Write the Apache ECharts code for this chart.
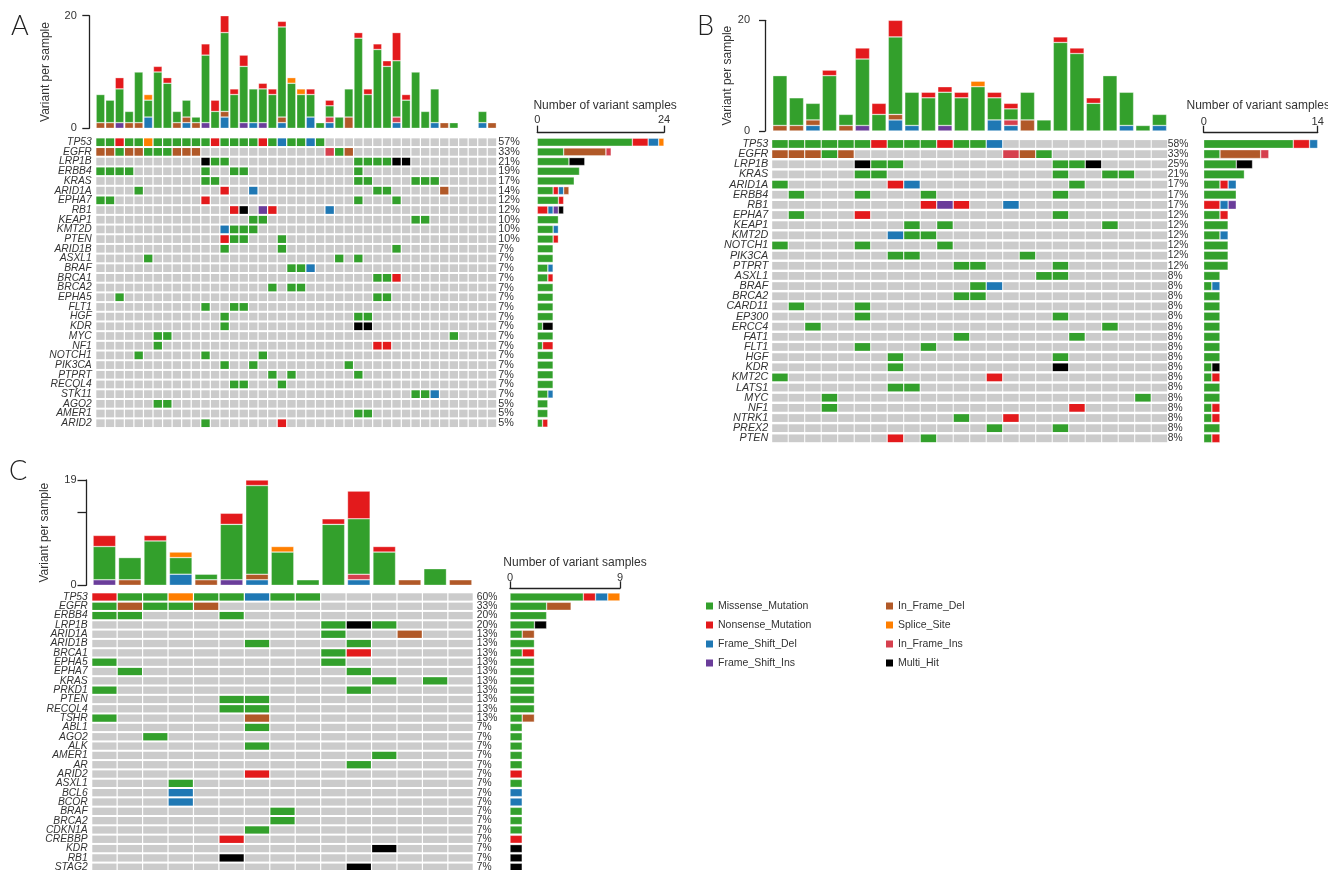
<!DOCTYPE html>
<html><head><meta charset="utf-8">
<script src="https://cdn.jsdelivr.net/npm/echarts@6/dist/echarts.min.js"></script>
<style>html,body{margin:0;padding:0;background:#fff}#c{width:1328px;height:870px}</style>
</head><body><div id="c"></div>
<script>
// ---------- mutation types ----------
const CODE_LIST = ['G','R','B','P','D','S','I','M'];
const TYPE_NAMES = {G:'Missense_Mutation',R:'Nonsense_Mutation',B:'Frame_Shift_Del',P:'Frame_Shift_Ins',D:'In_Frame_Del',S:'Splice_Site',I:'In_Frame_Ins',M:'Multi_Hit'};
const LEGEND_COL1 = ['Missense_Mutation','Nonsense_Mutation','Frame_Shift_Del','Frame_Shift_Ins'];
const LEGEND_COL2 = ['In_Frame_Del','Splice_Site','In_Frame_Ins','Multi_Hit'];

// ---------- Panel A ----------
const samplesA = 42;
const genesA = ['TP53','EGFR','LRP1B','ERBB4','KRAS','ARID1A','EPHA7','RB1','KEAP1','KMT2D','PTEN','ARID1B','ASXL1','BRAF','BRCA1','BRCA2','EPHA5','FLT1','HGF','KDR','MYC','NF1','NOTCH1','PIK3CA','PTPRT','RECQL4','STK11','AGO2','AMER1','ARID2'];
const pctA = ['57%','33%','21%','19%','17%','14%','12%','12%','10%','10%','10%','7%','7%','7%','7%','7%','7%','7%','7%','7%','7%','7%','7%','7%','7%','7%','7%','5%','5%','5%'];
// sample index + type code for each mutated cell
const mutA = [
 '0G 1G 2R 3G 4G 5S 6G 7G 8G 9G 10G 11G 12R 13G 14G 15G 16G 17R 18G 19B 20G 21G 22B 23G',
 '0D 1D 2G 3D 4D 5G 6G 7G 8D 9D 10D 24I 25G 26D',
 '11M 12G 13G 27G 28G 29G 30G 31M 32M',
 '0G 1G 2G 3G 11G 14G 15G 27G',
 '11G 12G 27G 28G 33G 34G 35G',
 '4G 13R 16B 29G 30G 36D',
 '0G 1G 11R 27G 31G',
 '14R 15M 17P 18R 24B',
 '16G 17G 33G 34G',
 '13B 14G 15G 16G',
 '13R 14G 15G 19G',
 '13G 19G 31G',
 '5G 25G 27G',
 '20G 21G 22B',
 '29G 30G 31R',
 '18G 20G 21G',
 '2G 29G 30G',
 '11G 14G 15G',
 '13G 27G 28G',
 '13G 27M 28M',
 '6G 7G 37G',
 '6G 29R 30R',
 '4G 11G 17G',
 '13G 16G 26G',
 '18G 20G 27G',
 '14G 15G 19G',
 '33G 34G 35B',
 '6G 7G',
 '27G 28G',
 '11G 19R'
];
const topA_Frame_Shift_Del = [0,0,0,0,0,2,0,0,0,1, 0,0,0,2,0,0,1,0,0,1, 0,0,2,0,1,0,0,0,0,0, 0,1,0,0,0,1,0,0,0,0, 1,0];
const topA_Frame_Shift_Ins = [0,0,1,0,0,0,0,0,0,0, 0,1,0,0,0,1,0,1,0,0, 0,0,0,0,0,0,0,0,0,0, 0,0,0,0,0,0,0,0,0,0, 0,0];
const topA_In_Frame_Del    = [1,1,0,1,1,0,0,0,1,1, 1,0,0,1,0,0,0,0,0,1, 0,0,0,0,0,0,2,0,0,0, 0,0,0,0,0,0,1,0,0,0, 0,1];
const topA_In_Frame_Ins    = [0,0,0,0,0,0,0,0,0,0, 0,0,0,0,0,0,0,0,0,0, 0,0,0,0,1,0,0,0,0,0, 0,1,0,0,0,0,0,0,0,0, 0,0];
const topA_Missense        = [5,4,6,2,9,3,10,8,2,3, 1,12,3,14,6,10,6,6,6,16, 8,6,4,1,2,2,5,16,6,14, 11,10,5,10,3,6,0,1,0,0, 2,0];
const topA_Nonsense        = [0,0,2,0,0,0,1,1,0,0, 0,2,2,3,1,2,0,1,1,1, 0,0,1,0,1,0,0,1,1,1, 1,5,1,0,0,0,0,0,0,0, 0,0];
const topA_Splice_Site     = [0,0,0,0,0,1,0,0,0,0, 0,0,0,0,0,0,0,0,0,0, 1,1,0,0,0,0,0,0,0,0, 0,0,0,0,0,0,0,0,0,0, 0,0];

// ---------- Panel B ----------
const samplesB = 24;
const genesB = ['TP53','EGFR','LRP1B','KRAS','ARID1A','ERBB4','RB1','EPHA7','KEAP1','KMT2D','NOTCH1','PIK3CA','PTPRT','ASXL1','BRAF','BRCA2','CARD11','EP300','ERCC4','FAT1','FLT1','HGF','KDR','KMT2C','LATS1','MYC','NF1','NTRK1','PREX2','PTEN'];
const pctB = ['58%','33%','25%','21%','17%','17%','17%','12%','12%','12%','12%','12%','12%','8%','8%','8%','8%','8%','8%','8%','8%','8%','8%','8%','8%','8%','8%','8%','8%','8%'];
const mutB = [
 '0G 1G 2G 3G 4G 5G 6R 7G 8G 9G 10R 11G 12G 13B',
 '0D 1D 2D 3G 4D 14I 15D 16G',
 '5M 6G 7G 17G 18G 19M',
 '5G 6G 17G 20G 21G',
 '0G 7R 8B 18G',
 '1G 5G 9G 17G',
 '9R 10P 11R 14B',
 '1G 5R 17G',
 '8G 10G 20G',
 '7B 8G 9G',
 '0G 5G 10G',
 '7G 8G 15G',
 '11G 12G 17G',
 '16G 17G',
 '12G 13B',
 '11G 12G',
 '1G 5G',
 '5G 17G',
 '2G 20G',
 '11G 18G',
 '5G 9G',
 '7G 17G',
 '7G 17M',
 '0G 13R',
 '7G 8G',
 '3G 22G',
 '3G 18R',
 '11G 14R',
 '13G 17G',
 '7R 9G'
];
const topB_Frame_Shift_Del = [0,0,1,0,0,0,0,2,1,0, 0,0,0,2,1,0,0,0,0,0, 0,1,0,1];
const topB_Frame_Shift_Ins = [0,0,0,0,0,1,0,0,0,0, 1,0,0,0,0,0,0,0,0,0, 0,0,0,0];
const topB_In_Frame_Del    = [1,1,1,0,1,0,0,1,0,0, 0,0,0,0,0,2,0,0,0,0, 0,0,0,0];
const topB_In_Frame_Ins    = [0,0,0,0,0,0,0,0,0,0, 0,0,0,0,1,0,0,0,0,0, 0,0,0,0];
const topB_Missense        = [9,5,3,10,2,12,3,14,6,6, 6,6,8,4,2,5,2,16,14,5, 10,6,1,2];
const topB_Nonsense        = [0,0,0,1,0,2,2,3,0,1, 1,1,0,1,1,0,0,1,1,1, 0,0,0,0];
const topB_Splice_Site     = [0,0,0,0,0,0,0,0,0,0, 0,0,1,0,0,0,0,0,0,0, 0,0,0,0];

// ---------- Panel C ----------
const samplesC = 15;
const genesC = ['TP53','EGFR','ERBB4','LRP1B','ARID1A','ARID1B','BRCA1','EPHA5','EPHA7','KRAS','PRKD1','PTEN','RECQL4','TSHR','ABL1','AGO2','ALK','AMER1','AR','ARID2','ASXL1','BCL6','BCOR','BRAF','BRCA2','CDKN1A','CREBBP','KDR','RB1','STAG2'];
const pctC = ['60%','33%','20%','20%','13%','13%','13%','13%','13%','13%','13%','13%','13%','13%','7%','7%','7%','7%','7%','7%','7%','7%','7%','7%','7%','7%','7%','7%','7%','7%'];
const mutC = [
 '0R 1G 2G 3S 4G 5G 6B 7G 8G',
 '0G 1D 2G 3G 4D',
 '0G 1G 5G',
 '9G 10M 11G',
 '9G 12D',
 '6G 10G',
 '9G 10R',
 '0G 9G',
 '1G 10G',
 '11G 13G',
 '0G 10G',
 '5G 6G',
 '5G 6G',
 '0G 6D',
 '6G','2G','6G','11G','10G','6R','3G','3B','3B','7G','7G','6G','5R','11M','5M','10M'
];
const topC_Frame_Shift_Del = [0,0,0,2,0,0,1,0,0,0,1,0,0,0,0];
const topC_Frame_Shift_Ins = [1,0,0,0,0,1,0,0,0,0,0,0,0,0,0];
const topC_In_Frame_Del    = [0,1,0,0,1,0,1,0,0,0,0,0,1,0,1];
const topC_In_Frame_Ins    = [0,0,0,0,0,0,0,0,0,0,1,0,0,0,0];
const topC_Missense        = [6,4,8,3,1,10,16,6,1,11,10,6,0,3,0];
const topC_Nonsense        = [2,0,1,0,0,2,1,0,0,1,5,1,0,0,0];
const topC_Splice_Site     = [0,0,0,1,0,0,0,1,0,0,0,0,0,0,0];

// ---------- styles ----------
const COLORS = {G:'#33a02c',R:'#e31a1c',B:'#1f78b4',P:'#6a3d9a',D:'#b15928',S:'#ff7f00',I:'#d6404e',M:'#000000'};
const GRAY = '#cbcbcb';
const STACK_TOP = ['B','P','D','I','G','R','S'];
const STACK_RIGHT = ['G','R','B','P','D','I','S','M'];
const AX = '#222', TXT = '#333';

const grids = [], xAxes = [], yAxes = [], series = [];
function addGrid(g){ grids.push(Object.assign({outerBoundsMode:'none', containLabel:false}, g)); return grids.length - 1; }

function panel(P){
  const n = P.n;
  const cats = Array.from({length:n}, (_, i) => 'S' + (i + 1));
  // --- top stacked bar chart ---
  const gT = addGrid(P.topGrid);
  const xT = xAxes.push({type:'category', gridIndex:gT, data:cats, show:false}) - 1;
  const yTick = {show:true, length:P.tickLen, lineStyle:{color:AX, width:1.3}};
  if (P.topTicks) yTick.customValues = P.topTicks;
  const yT = yAxes.push({type:'value', gridIndex:gT, min:0, max:P.topMax, interval:P.topMax, offset:P.topOffset,
    axisLine:{show:true, lineStyle:{color:AX, width:1.3}}, axisTick:yTick,
    axisLabel:{fontSize:11, color:TXT, margin:P.labelMargin}, splitLine:{show:false},
    name:'Variant per sample', nameLocation:'middle', nameRotate:90, nameGap:P.nameGap,
    nameTextStyle:{fontSize:12, color:TXT}}) - 1;
  STACK_TOP.forEach(code => {
    series.push({type:'bar', name:TYPE_NAMES[code], xAxisIndex:xT, yAxisIndex:yT, stack:'top' + P.id,
      data:P.top[code].map(v => v === 0 ? '-' : v), barWidth:P.barW,
      itemStyle:{color:COLORS[code], borderColor:'rgba(255,255,255,0.55)', borderWidth:0.6}});
  });
  // --- oncoplot cells ---
  const gO = addGrid(P.oncoGrid);
  const xO = xAxes.push({type:'category', gridIndex:gO, data:cats, show:false}) - 1;
  const yO = yAxes.push({type:'category', gridIndex:gO, data:P.genes, inverse:true,
    axisLine:{show:false}, axisTick:{show:false},
    axisLabel:{interval:0, fontSize:P.geneFont, fontStyle:'italic', color:TXT, margin:P.geneMargin}}) - 1;
  yAxes.push({type:'category', gridIndex:gO, data:P.pct, inverse:true, position:'right',
    axisLine:{show:false}, axisTick:{show:false},
    axisLabel:{interval:0, fontSize:P.pctFont, color:TXT, margin:P.pctMargin}});
  const cells = [];
  const parsed = P.muts.map(s => s.split(' ').filter(Boolean).map(t => [parseInt(t, 10), t.slice(-1)]));
  parsed.forEach((list, r) => {
    const row = new Array(n).fill(-1);
    list.forEach(([c, code]) => { row[c] = CODE_LIST.indexOf(code); });
    row.forEach((v, c) => cells.push([c, r, v]));
  });
  series.push({type:'custom', name:'cells' + P.id, xAxisIndex:xO, yAxisIndex:yO, data:cells, silent:true,
    renderItem:(params, api) => {
      const c = api.coord([api.value(0), api.value(1)]);
      const s = api.size([1, 1]);
      const w = s[0] - P.gx, h = s[1] - P.gy;
      const v = api.value(2);
      return {type:'rect', shape:{x:c[0] - w / 2, y:c[1] - h / 2, width:w, height:h},
        style:{fill: v < 0 ? GRAY : COLORS[CODE_LIST[v]]}};
    }});
  // --- right stacked bars: number of variant samples ---
  const gR = addGrid({left:P.rLeft, width:P.rWidth, top:P.oncoGrid.top, height:P.oncoGrid.height});
  const xR = xAxes.push({type:'value', gridIndex:gR, position:'top', min:0, max:P.rMax, interval:P.rMax, offset:P.rOffset,
    axisLine:{show:true, lineStyle:{color:AX, width:1.3}}, axisTick:{show:true, length:7, lineStyle:{color:AX, width:1.3}},
    axisLabel:{fontSize:11, color:TXT, margin:P.rLabelMargin}, splitLine:{show:false},
    name:'Number of variant samples', nameLocation:'middle', nameGap:P.rNameGap,
    nameTextStyle:{fontSize:12, color:TXT, padding:P.rNamePad}}) - 1;
  const yR = yAxes.push({type:'category', gridIndex:gR, data:P.genes, inverse:true, show:false}) - 1;
  STACK_RIGHT.forEach(code => {
    const data = parsed.map(list => list.filter(t => t[1] === code).length);
    series.push({type:'bar', name:TYPE_NAMES[code], xAxisIndex:xR, yAxisIndex:yR, stack:'right' + P.id,
      data:data.map(v => v === 0 ? '-' : v), barWidth:P.rBarW,
      itemStyle:{color:COLORS[code], borderColor:'rgba(255,255,255,0.55)', borderWidth:0.6}});
  });
}

panel({id:'A', n:samplesA, genes:genesA, pct:pctA, muts:mutA,
  top:{B:topA_Frame_Shift_Del, P:topA_Frame_Shift_Ins, D:topA_In_Frame_Del, I:topA_In_Frame_Ins, G:topA_Missense, R:topA_Nonsense, S:topA_Splice_Site},
  topMax:20, topGrid:{left:95.7, top:15.7, width:401.1, height:112.6}, topOffset:6.4, tickLen:7, labelMargin:12.5, nameGap:37.5, barW:'91%',
  oncoGrid:{left:95.7, top:137.35, width:401.1, height:290.7}, gx:1.2, gy:2, geneFont:10.3, geneMargin:4, pctFont:10.8, pctMargin:1.5,
  rLeft:537.3, rWidth:126.7, rOffset:4.7, rMax:24, rLabelMargin:7, rNameGap:21, rNamePad:[0,0,0,9], rBarW:8});

panel({id:'B', n:samplesB, genes:genesB, pct:pctB, muts:mutB,
  top:{B:topB_Frame_Shift_Del, P:topB_Frame_Shift_Ins, D:topB_In_Frame_Del, I:topB_In_Frame_Ins, G:topB_Missense, R:topB_Nonsense, S:topB_Splice_Site},
  topMax:20, topGrid:{left:771.7, top:20.3, width:396, height:110.7}, topOffset:6.7, tickLen:6, labelMargin:15, nameGap:31.7, barW:'87%',
  oncoGrid:{left:771.7, top:138.9, width:396, height:304.5}, gx:1, gy:2.4, geneFont:10.8, geneMargin:3.4, pctFont:10.3, pctMargin:0,
  rLeft:1203.7, rWidth:114, rOffset:6.2, rMax:14, rLabelMargin:5, rNameGap:21, rNamePad:[0,5,0,0], rBarW:8.8});

panel({id:'C', n:samplesC, genes:genesC, pct:pctC, muts:mutC,
  top:{B:topC_Frame_Shift_Del, P:topC_Frame_Shift_Ins, D:topC_In_Frame_Del, I:topC_In_Frame_Ins, G:topC_Missense, R:topC_Nonsense, S:topC_Splice_Site},
  topMax:19, topTicks:[0, 13.2, 19], topGrid:{left:91.7, top:480, width:381.6, height:105.3}, topOffset:5.7, tickLen:8.5, labelMargin:9.5, nameGap:35, barW:'89%',
  oncoGrid:{left:91.7, top:592.3, width:381.6, height:279.6}, gx:1.2, gy:2, geneFont:10.3, geneMargin:4, pctFont:10.3, pctMargin:3.4,
  rLeft:510, rWidth:110, rOffset:4, rMax:9, rLabelMargin:5, rNameGap:20, rNamePad:[0,0,0,20], rBarW:8});

const legendBase = {orient:'vertical', top:600, itemWidth:7, itemHeight:7, itemGap:7, icon:'rect', selectedMode:false, padding:0,
  textStyle:{fontSize:10.5, color:TXT, lineHeight:12}, itemStyle:{borderWidth:0}};
const letter = (t, left, top) => ({text:t, left, top, padding:0, textStyle:{fontSize:27, fontWeight:300, color:'#222', fontFamily:'Lato, "Open Sans", sans-serif'}});

const chart = echarts.init(document.getElementById('c'), null, {renderer:'canvas', width:1328, height:870});
chart.setOption({
  animation:false,
  backgroundColor:'#fff',
  textStyle:{fontFamily:'"Liberation Sans", Arial, Helvetica, sans-serif'},
  title:[letter('A', 11, 13), letter('B', 697, 13), letter('C', 9, 458)],
  legend:[Object.assign({}, legendBase, {left:706, data:LEGEND_COL1}), Object.assign({}, legendBase, {left:886, data:LEGEND_COL2})],
  grid:grids, xAxis:xAxes, yAxis:yAxes, series:series
});
</script></body></html>
